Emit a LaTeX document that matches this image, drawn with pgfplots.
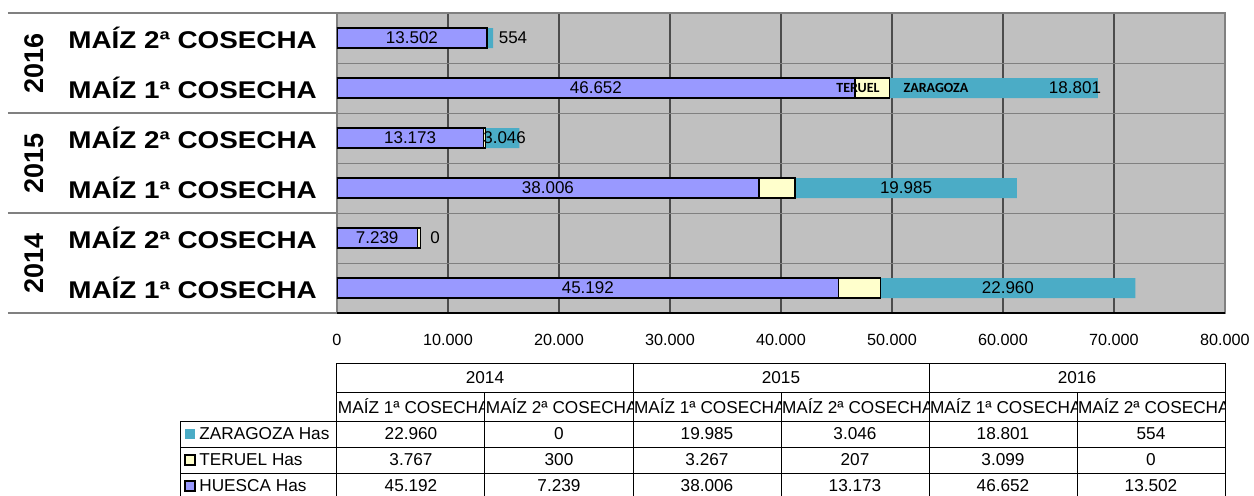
\documentclass[border=0pt]{standalone}
\usepackage{pgfplots}
\pgfplotsset{compat=1.18}
\usepackage{fontspec}
\setmainfont{Liberation Sans}
\newfontfamily\calfont{Carlito}
\usepackage{graphicx}

\definecolor{hue}{HTML}{9999FF}
\definecolor{ter}{HTML}{FFFFCC}
\definecolor{zar}{HTML}{4BACC6}
\definecolor{bg}{HTML}{C0C0C0}

\newcommand{\catl}[1]{\scalebox{1.15}[1]{\fontsize{12.1}{12}\selectfont\bfseries #1}}
\newcommand{\labf}{\fontsize{8.5}{9}\selectfont}
\newcommand{\tabf}{\fontsize{8.6}{9}\selectfont}

\begin{document}
\begin{tikzpicture}
\begin{axis}[
  scale only axis, width=444pt, height=150pt,
  xbar stacked, bar width=10pt,
  xmin=0, xmax=80000, ymin=-0.5, ymax=5.5,
  axis background/.style={fill=bg},
  xtick={0,10000,...,80000},
  scaled x ticks=false,
  xticklabel style={font=\fontsize{8.1}{8}\selectfont, anchor=center, yshift=-13.5pt,
    /pgf/number format/1000 sep={.}, /pgf/number format/assume math mode=true},
  ytick={0,...,5},
  yticklabels={\catl{MAÍZ 1ª COSECHA},\catl{MAÍZ 2ª COSECHA},\catl{MAÍZ 1ª COSECHA},\catl{MAÍZ 2ª COSECHA},\catl{MAÍZ 1ª COSECHA},\catl{MAÍZ 2ª COSECHA}},
  yticklabel style={anchor=west, inner sep=0pt, xshift=-134.5pt},
  major tick length=0pt, minor tick length=0pt,
  minor ytick={0.5,1.5,2.5,3.5,4.5},
  yminorgrids, xmajorgrids, ymajorgrids=false,
  major grid style={draw=black!70, line width=0.6pt},
  minor grid style={draw=gray, line width=0.5pt},
  axis line style={draw=gray, line width=0.6pt},
]
\addplot[fill=hue, draw=black, line width=0.7pt] coordinates {(45192,0) (7239,1) (38006,2) (13173,3) (46652,4) (13502,5)};
\addplot[fill=ter, draw=black, line width=0.7pt] coordinates {(3767,0) (300,1) (3267,2) (207,3) (3099,4) (0,5)};
\addplot[fill=zar, draw=none] coordinates {(22960,0) (0,1) (19985,2) (3046,3) (18801,4) (554,5)};
\end{axis}

% overlay axis for value labels
\begin{axis}[
  scale only axis, width=444pt, height=150pt,
  xmin=0, xmax=80000, ymin=-0.5, ymax=5.5,
  hide axis, clip=false,
]
\node[font=\labf] at (axis cs:22596,0) {45.192};
\node[font=\labf] at (axis cs:3620,1) {7.239};
\node[font=\labf] at (axis cs:19003,2) {38.006};
\node[font=\labf] at (axis cs:6587,3) {13.173};
\node[font=\labf] at (axis cs:23326,4) {46.652};
\node[font=\labf] at (axis cs:6751,5) {13.502};

\node[font=\labf] at (axis cs:60439,0) {22.960};
\node[font=\labf] at (axis cs:8829,1) {0};
\node[font=\labf] at (axis cs:51265,2) {19.985};
\node[font=\labf] at (axis cs:15100,3) {3.046};
\node[font=\labf] at (axis cs:66486,4) {18.801};
\node[font=\labf] at (axis cs:15856,5) {554};

\node[font=\calfont\bfseries\fontsize{7}{7}\selectfont] at (axis cs:46937,4) {TERUEL};
\node[font=\calfont\bfseries\fontsize{7}{7}\selectfont] at (axis cs:53964,4) {ZARAGOZA};

\draw[black, line width=0.8pt] (rel axis cs:0,0) -- (rel axis cs:1,0);
\end{axis}

% year labels
\node[rotate=90, font=\fontsize{13.5}{13.5}\selectfont\bfseries] at (-151.5pt,125pt) {2016};
\node[rotate=90, font=\fontsize{13.5}{13.5}\selectfont\bfseries] at (-151.5pt,75pt) {2015};
\node[rotate=90, font=\fontsize{13.5}{13.5}\selectfont\bfseries] at (-151.5pt,25pt) {2014};
\draw[gray, line width=0.6pt] (-164.5pt,0pt) -- (0pt,0pt);
\draw[gray, line width=0.6pt] (-164.5pt,50pt) -- (0pt,50pt);
\draw[gray, line width=0.6pt] (-164.5pt,100pt) -- (0pt,100pt);
\draw[gray, line width=0.6pt] (-164.5pt,150pt) -- (0pt,150pt);

% data table
\draw[line width=0.5pt] (0pt,-25pt) -- (444pt,-25pt);
\draw[line width=0.5pt] (0pt,-39.5pt) -- (444pt,-39.5pt);
\draw[line width=0.5pt] (-78pt,-54pt) -- (444pt,-54pt);
\draw[line width=0.5pt] (-78pt,-67pt) -- (444pt,-67pt);
\draw[line width=0.5pt] (-78pt,-80pt) -- (444pt,-80pt);
\draw[line width=0.5pt] (-78pt,-93pt) -- (444pt,-93pt);
\draw[line width=0.5pt] (0pt,-25pt) -- (0pt,-93pt);
\draw[line width=0.5pt] (148pt,-25pt) -- (148pt,-93pt);
\draw[line width=0.5pt] (296pt,-25pt) -- (296pt,-93pt);
\draw[line width=0.5pt] (444pt,-25pt) -- (444pt,-93pt);
\draw[line width=0.5pt] (74pt,-39.5pt) -- (74pt,-93pt);
\draw[line width=0.5pt] (222pt,-39.5pt) -- (222pt,-93pt);
\draw[line width=0.5pt] (370pt,-39.5pt) -- (370pt,-93pt);
\draw[line width=0.5pt] (-78pt,-54pt) -- (-78pt,-93pt);

\node[font=\tabf] at (74pt,-32.25pt) {2014};
\node[font=\tabf] at (222pt,-32.25pt) {2015};
\node[font=\tabf] at (370pt,-32.25pt) {2016};

\begin{scope}\clip (0pt,-39.5pt) rectangle (74pt,-54pt);
\node[font=\tabf, anchor=west, inner sep=0.3pt] at (0pt,-46.75pt) {MAÍZ 1ª COSECHA};\end{scope}
\begin{scope}\clip (74pt,-39.5pt) rectangle (148pt,-54pt);
\node[font=\tabf, anchor=west, inner sep=0.3pt] at (74pt,-46.75pt) {MAÍZ 2ª COSECHA};\end{scope}
\begin{scope}\clip (148pt,-39.5pt) rectangle (222pt,-54pt);
\node[font=\tabf, anchor=west, inner sep=0.3pt] at (148pt,-46.75pt) {MAÍZ 1ª COSECHA};\end{scope}
\begin{scope}\clip (222pt,-39.5pt) rectangle (296pt,-54pt);
\node[font=\tabf, anchor=west, inner sep=0.3pt] at (222pt,-46.75pt) {MAÍZ 2ª COSECHA};\end{scope}
\begin{scope}\clip (296pt,-39.5pt) rectangle (370pt,-54pt);
\node[font=\tabf, anchor=west, inner sep=0.3pt] at (296pt,-46.75pt) {MAÍZ 1ª COSECHA};\end{scope}
\begin{scope}\clip (370pt,-39.5pt) rectangle (444pt,-54pt);
\node[font=\tabf, anchor=west, inner sep=0.3pt] at (370pt,-46.75pt) {MAÍZ 2ª COSECHA};\end{scope}

% legend keys
\fill[zar] (-76pt,-63pt) rectangle (-71pt,-58pt);
\filldraw[fill=ter, draw=black, line width=0.6pt] (-76pt,-76pt) rectangle (-71pt,-71pt);
\filldraw[fill=hue, draw=black, line width=0.6pt] (-76pt,-89pt) rectangle (-71pt,-84pt);
\node[font=\tabf, anchor=west, inner sep=0pt] at (-69pt,-60.5pt) {ZARAGOZA Has};
\node[font=\tabf, anchor=west, inner sep=0pt] at (-69pt,-73.5pt) {TERUEL Has};
\node[font=\tabf, anchor=west, inner sep=0pt] at (-69pt,-86.5pt) {HUESCA Has};

\node[font=\tabf] at (37pt,-60.5pt) {22.960};
\node[font=\tabf] at (111pt,-60.5pt) {0};
\node[font=\tabf] at (185pt,-60.5pt) {19.985};
\node[font=\tabf] at (259pt,-60.5pt) {3.046};
\node[font=\tabf] at (333pt,-60.5pt) {18.801};
\node[font=\tabf] at (407pt,-60.5pt) {554};
\node[font=\tabf] at (37pt,-73.5pt) {3.767};
\node[font=\tabf] at (111pt,-73.5pt) {300};
\node[font=\tabf] at (185pt,-73.5pt) {3.267};
\node[font=\tabf] at (259pt,-73.5pt) {207};
\node[font=\tabf] at (333pt,-73.5pt) {3.099};
\node[font=\tabf] at (407pt,-73.5pt) {0};
\node[font=\tabf] at (37pt,-86.5pt) {45.192};
\node[font=\tabf] at (111pt,-86.5pt) {7.239};
\node[font=\tabf] at (185pt,-86.5pt) {38.006};
\node[font=\tabf] at (259pt,-86.5pt) {13.173};
\node[font=\tabf] at (333pt,-86.5pt) {46.652};
\node[font=\tabf] at (407pt,-86.5pt) {13.502};

\pgfresetboundingbox
\path[use as bounding box] (-168.5pt,-91pt) rectangle (458.5pt,156.5pt);
\end{tikzpicture}
\end{document}
